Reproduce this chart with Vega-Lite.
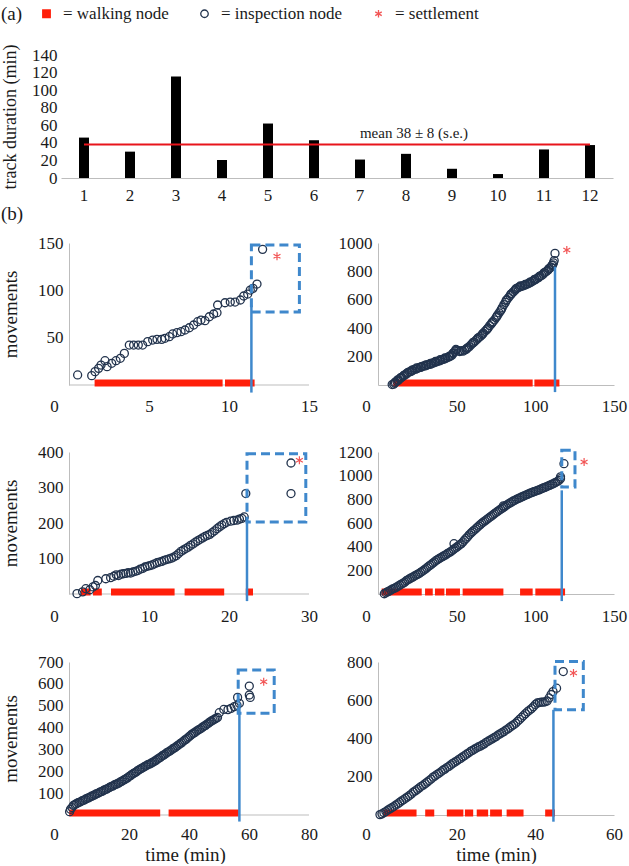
{
"$schema": "https://vega.github.io/schema/vega-lite/v6.json",
"padding": {"left": 0, "top": 5, "right": 2, "bottom": 0},
"background": "#ffffff",
"config": {
 "font": "Liberation Serif",
 "view": {"stroke": null},
 "axis": {"labelFont": "Liberation Serif", "titleFont": "Liberation Serif", "labelFontSize": 17, "titleFontSize": 19, "titleFontWeight": "normal", "labelColor": "#1a1a1a", "titleColor": "#1a1a1a", "ticks": false, "tickSize": 0, "tickCount": 20, "grid": false, "domainColor": "#bdbdbd", "domainWidth": 1, "labelOverlap": false, "labelFlush": false, "format": "d"},
 "title": {"font": "Liberation Serif", "fontSize": 19, "fontWeight": "normal", "color": "#1a1a1a", "anchor": "start"},
 "legend": {"labelFont": "Liberation Serif"}
},
"datasets": {
 "bars": [{"track":1,"dur":46},{"track":2,"dur":30},{"track":3,"dur":115.5},{"track":4,"dur":20.5},{"track":5,"dur":62},{"track":6,"dur":43},{"track":7,"dur":21},{"track":8,"dur":27.5},{"track":9,"dur":10.5},{"track":10,"dur":4.5},{"track":11,"dur":32.5},{"track":12,"dur":37.5}],
 "mean": [{"mean":38,"label":"mean 38 ± 8 (s.e.)"}],
 "axisline": [{"p":1,"x0":0,"x1":15},{"p":3,"x0":0,"x1":30},{"p":5,"x0":0,"x1":80}],
 "walk": [
  {"p":1,"t0":1.6,"t1":9.6},{"p":1,"t0":9.75,"t1":11.6},
  {"p":2,"t0":9.7,"t1":98.3},{"p":2,"t0":99.4,"t1":115.3},
  {"p":3,"t0":1.5,"t1":2.7},{"p":3,"t0":3.0,"t1":4.1},{"p":3,"t0":5.25,"t1":13.2},{"p":3,"t0":14.45,"t1":19.4},{"p":3,"t0":22.1,"t1":23.0},
  {"p":4,"t0":2.3,"t1":27.8},{"p":4,"t0":29.9,"t1":34.8},{"p":4,"t0":36.2,"t1":42.2},{"p":4,"t0":43.2,"t1":52.1},{"p":4,"t0":53.8,"t1":79.7},{"p":4,"t0":90.3,"t1":98.3},{"p":4,"t0":100,"t1":118.9},
  {"p":5,"t0":0.1,"t1":30.4},{"p":5,"t0":33.2,"t1":56.6},
  {"p":6,"t0":1.4,"t1":9.8},{"p":6,"t0":12,"t1":14.3},{"p":6,"t0":17.5,"t1":21.7},{"p":6,"t0":22.1,"t1":24.2},{"p":6,"t0":25.1,"t1":28},{"p":6,"t0":28.5,"t1":31.5},{"p":6,"t0":32.7,"t1":37},{"p":6,"t0":42.5,"t1":45}
 ],
 "vline": [
  {"p":1,"t":11.4,"m0":-8,"m1":84},
  {"p":2,"t":112.5,"m0":-50,"m1":833},
  {"p":3,"t":22.25,"m0":-20,"m1":208},
  {"p":4,"t":116.8,"m0":-60,"m1":876},
  {"p":5,"t":56.8,"m0":-30,"m1":511},
  {"p":6,"t":44.6,"m0":-35,"m1":550}
 ],
 "box": [
  {"p":1,"t0":11.4,"t1":14.4,"m0":77,"m1":148},
  {"p":3,"t0":22.25,"t1":29.6,"m0":203,"m1":395},
  {"p":4,"t0":116.8,"t1":125.2,"m0":904,"m1":1214},
  {"p":5,"t0":56.4,"t1":68.4,"m0":465,"m1":663},
  {"p":6,"t0":45,"t1":52.2,"m0":550,"m1":803}
 ],
 "star": [
  {"p":1,"t":13.0,"m":136},
  {"p":2,"t":120,"m":950},
  {"p":3,"t":28.8,"m":377},
  {"p":4,"t":131,"m":1116},
  {"p":5,"t":64.9,"m":610},
  {"p":6,"t":49.7,"m":742}
 ],
 "pts": [
  {"p":1,"t":0.54,"m":10.6},{"p":1,"t":1.42,"m":9.9},{"p":1,"t":1.63,"m":14.1},{"p":1,"t":1.85,"m":17.6},{"p":1,"t":2.0,"m":21.1},{"p":1,"t":2.25,"m":25.7},{"p":1,"t":2.38,"m":19.4},{"p":1,"t":2.67,"m":22.9},{"p":1,"t":2.94,"m":25.7},{"p":1,"t":3.21,"m":28.2},{"p":1,"t":3.46,"m":33.4},{"p":1,"t":3.77,"m":42.2},{"p":1,"t":4.04,"m":42.2},{"p":1,"t":4.33,"m":42.2},{"p":1,"t":4.6,"m":42.2},{"p":1,"t":4.92,"m":45.8},{"p":1,"t":5.23,"m":47.5},{"p":1,"t":5.5,"m":48.2},{"p":1,"t":5.79,"m":48.2},{"p":1,"t":6.0,"m":49.3},{"p":1,"t":6.27,"m":51},{"p":1,"t":6.48,"m":53.9},{"p":1,"t":6.75,"m":55.3},{"p":1,"t":7.0,"m":56.3},{"p":1,"t":7.25,"m":58.1},{"p":1,"t":7.52,"m":60.5},{"p":1,"t":7.79,"m":63.4},{"p":1,"t":8.04,"m":66.9},{"p":1,"t":8.25,"m":68.6},{"p":1,"t":8.5,"m":67.9},{"p":1,"t":8.77,"m":72.1},{"p":1,"t":9.04,"m":75},{"p":1,"t":9.25,"m":76.4},{"p":1,"t":9.29,"m":84.5},{"p":1,"t":9.75,"m":86.9},{"p":1,"t":10.08,"m":87.6},{"p":1,"t":10.38,"m":87.6},{"p":1,"t":10.71,"m":89.8},{"p":1,"t":10.92,"m":94},{"p":1,"t":11.17,"m":96.1},{"p":1,"t":11.33,"m":100.3},{"p":1,"t":11.5,"m":102.1},{"p":1,"t":11.75,"m":106.6},{"p":1,"t":12.1,"m":143.3},
  {"p":2,"t":9,"m":3},{"p":2,"t":10,"m":6},{"p":2,"t":10.5,"m":14},{"p":2,"t":11,"m":20},{"p":2,"t":12,"m":26},{"p":2,"t":12.5,"m":36},{"p":2,"t":13,"m":34},{"p":2,"t":14,"m":46},{"p":2,"t":14.5,"m":52},{"p":2,"t":15,"m":54},{"p":2,"t":16,"m":62},{"p":2,"t":16.5,"m":68},{"p":2,"t":17,"m":72},{"p":2,"t":18,"m":76},{"p":2,"t":18.5,"m":84},{"p":2,"t":19,"m":88},{"p":2,"t":20,"m":92},{"p":2,"t":21,"m":96},{"p":2,"t":21.5,"m":104},{"p":2,"t":22,"m":102},{"p":2,"t":23,"m":110},{"p":2,"t":24,"m":112},{"p":2,"t":24.5,"m":120},{"p":2,"t":25,"m":116},{"p":2,"t":26,"m":122},{"p":2,"t":27,"m":124},{"p":2,"t":27.5,"m":130},{"p":2,"t":28,"m":128},{"p":2,"t":29,"m":134},{"p":2,"t":30,"m":134},{"p":2,"t":30.5,"m":142},{"p":2,"t":31,"m":140},{"p":2,"t":32,"m":144},{"p":2,"t":33,"m":150},{"p":2,"t":33.5,"m":146},{"p":2,"t":34,"m":154},{"p":2,"t":35,"m":154},{"p":2,"t":36,"m":160},{"p":2,"t":36.5,"m":166},{"p":2,"t":37,"m":162},{"p":2,"t":38,"m":168},{"p":2,"t":39,"m":170},{"p":2,"t":39.5,"m":178},{"p":2,"t":40,"m":174},{"p":2,"t":41,"m":180},{"p":2,"t":42,"m":182},{"p":2,"t":42.5,"m":190},{"p":2,"t":43,"m":188},{"p":2,"t":44,"m":192},{"p":2,"t":45,"m":198},{"p":2,"t":45.5,"m":204},{"p":2,"t":46,"m":202},{"p":2,"t":47,"m":210},{"p":2,"t":47.5,"m":222},{"p":2,"t":48,"m":226},{"p":2,"t":49,"m":238},{"p":2,"t":49.5,"m":250},{"p":2,"t":50,"m":246},{"p":2,"t":51,"m":240},{"p":2,"t":52,"m":236},{"p":2,"t":53,"m":242},{"p":2,"t":54,"m":238},{"p":2,"t":55,"m":246},{"p":2,"t":56,"m":250},{"p":2,"t":56.5,"m":258},{"p":2,"t":57,"m":262},{"p":2,"t":58,"m":270},{"p":2,"t":59,"m":282},{"p":2,"t":60,"m":292},{"p":2,"t":60.5,"m":300},{"p":2,"t":61,"m":302},{"p":2,"t":62,"m":312},{"p":2,"t":63,"m":322},{"p":2,"t":63.5,"m":330},{"p":2,"t":64,"m":334},{"p":2,"t":65,"m":342},{"p":2,"t":66,"m":352},{"p":2,"t":66.5,"m":360},{"p":2,"t":67,"m":366},{"p":2,"t":68,"m":378},{"p":2,"t":69,"m":388},{"p":2,"t":69.5,"m":396},{"p":2,"t":70,"m":402},{"p":2,"t":71,"m":418},{"p":2,"t":72,"m":430},{"p":2,"t":72.5,"m":440},{"p":2,"t":73,"m":446},{"p":2,"t":74,"m":458},{"p":2,"t":75,"m":474},{"p":2,"t":75.5,"m":482},{"p":2,"t":76,"m":492},{"p":2,"t":77,"m":508},{"p":2,"t":78,"m":524},{"p":2,"t":78.5,"m":534},{"p":2,"t":79,"m":546},{"p":2,"t":80,"m":566},{"p":2,"t":81,"m":582},{"p":2,"t":81.5,"m":596},{"p":2,"t":82,"m":602},{"p":2,"t":83,"m":616},{"p":2,"t":84,"m":630},{"p":2,"t":84.5,"m":640},{"p":2,"t":85,"m":644},{"p":2,"t":86,"m":656},{"p":2,"t":87,"m":666},{"p":2,"t":87.5,"m":676},{"p":2,"t":88,"m":678},{"p":2,"t":89,"m":686},{"p":2,"t":90,"m":690},{"p":2,"t":90.5,"m":698},{"p":2,"t":91,"m":694},{"p":2,"t":92,"m":698},{"p":2,"t":93,"m":702},{"p":2,"t":93.5,"m":708},{"p":2,"t":94,"m":706},{"p":2,"t":95,"m":712},{"p":2,"t":96,"m":716},{"p":2,"t":96.5,"m":724},{"p":2,"t":97,"m":722},{"p":2,"t":98,"m":730},{"p":2,"t":99,"m":736},{"p":2,"t":99.5,"m":744},{"p":2,"t":100,"m":742},{"p":2,"t":101,"m":750},{"p":2,"t":102,"m":756},{"p":2,"t":102.5,"m":764},{"p":2,"t":103,"m":766},{"p":2,"t":104,"m":772},{"p":2,"t":105,"m":780},{"p":2,"t":105.5,"m":790},{"p":2,"t":106,"m":792},{"p":2,"t":107,"m":800},{"p":2,"t":108,"m":808},{"p":2,"t":108.5,"m":818},{"p":2,"t":109,"m":822},{"p":2,"t":110,"m":830},{"p":2,"t":110.5,"m":842},{"p":2,"t":111,"m":846},{"p":2,"t":111.5,"m":860},{"p":2,"t":112,"m":876},{"p":2,"t":112.5,"m":927},
  {"p":3,"t":1.0,"m":1},{"p":3,"t":1.7,"m":6},{"p":3,"t":2.1,"m":15},{"p":3,"t":2.6,"m":12},{"p":3,"t":3.0,"m":20},{"p":3,"t":3.3,"m":24},{"p":3,"t":3.6,"m":38},{"p":3,"t":4.6,"m":43},{"p":3,"t":5.2,"m":46},{"p":3,"t":5.6,"m":50},{"p":3,"t":5.9,"m":54},{"p":3,"t":6.2,"m":52},{"p":3,"t":6.5,"m":56},{"p":3,"t":6.8,"m":57},{"p":3,"t":7.1,"m":58},{"p":3,"t":7.4,"m":60},{"p":3,"t":7.7,"m":59},{"p":3,"t":8.0,"m":62},{"p":3,"t":8.3,"m":64},{"p":3,"t":8.6,"m":66},{"p":3,"t":8.9,"m":70},{"p":3,"t":9.2,"m":72},{"p":3,"t":9.5,"m":76},{"p":3,"t":9.8,"m":78},{"p":3,"t":10.1,"m":80},{"p":3,"t":10.4,"m":82},{"p":3,"t":10.7,"m":85},{"p":3,"t":11.0,"m":88},{"p":3,"t":11.3,"m":90},{"p":3,"t":11.6,"m":92},{"p":3,"t":11.9,"m":95},{"p":3,"t":12.2,"m":97},{"p":3,"t":12.5,"m":99},{"p":3,"t":12.8,"m":101},{"p":3,"t":13.1,"m":104},{"p":3,"t":13.4,"m":108},{"p":3,"t":13.7,"m":114},{"p":3,"t":14.0,"m":120},{"p":3,"t":14.3,"m":124},{"p":3,"t":14.6,"m":128},{"p":3,"t":14.9,"m":132},{"p":3,"t":15.2,"m":137},{"p":3,"t":15.5,"m":141},{"p":3,"t":15.8,"m":146},{"p":3,"t":16.1,"m":150},{"p":3,"t":16.4,"m":154},{"p":3,"t":16.7,"m":158},{"p":3,"t":17.0,"m":162},{"p":3,"t":17.3,"m":165},{"p":3,"t":17.6,"m":168},{"p":3,"t":17.9,"m":173},{"p":3,"t":18.2,"m":178},{"p":3,"t":18.5,"m":184},{"p":3,"t":18.8,"m":189},{"p":3,"t":19.1,"m":194},{"p":3,"t":19.4,"m":198},{"p":3,"t":19.7,"m":202},{"p":3,"t":20.2,"m":205},{"p":3,"t":20.6,"m":207},{"p":3,"t":21.0,"m":208},{"p":3,"t":21.3,"m":211},{"p":3,"t":21.6,"m":213},{"p":3,"t":21.9,"m":217},{"p":3,"t":22.1,"m":283},{"p":3,"t":27.75,"m":283},{"p":3,"t":27.75,"m":369},
  {"p":4,"t":4,"m":2},{"p":4,"t":5,"m":10},{"p":4,"t":6,"m":18},{"p":4,"t":7,"m":24},{"p":4,"t":8,"m":32},{"p":4,"t":9,"m":40},{"p":4,"t":10,"m":46},{"p":4,"t":11,"m":52},{"p":4,"t":12,"m":60},{"p":4,"t":13,"m":68},{"p":4,"t":14,"m":76},{"p":4,"t":15,"m":84},{"p":4,"t":16,"m":92},{"p":4,"t":17,"m":100},{"p":4,"t":18,"m":112},{"p":4,"t":19,"m":120},{"p":4,"t":20,"m":128},{"p":4,"t":21,"m":136},{"p":4,"t":22,"m":142},{"p":4,"t":23,"m":150},{"p":4,"t":24,"m":158},{"p":4,"t":25,"m":166},{"p":4,"t":26,"m":172},{"p":4,"t":27,"m":182},{"p":4,"t":28,"m":190},{"p":4,"t":29,"m":200},{"p":4,"t":30,"m":210},{"p":4,"t":31,"m":220},{"p":4,"t":32,"m":232},{"p":4,"t":33,"m":242},{"p":4,"t":34,"m":252},{"p":4,"t":35,"m":262},{"p":4,"t":36,"m":272},{"p":4,"t":37,"m":284},{"p":4,"t":38,"m":292},{"p":4,"t":39,"m":300},{"p":4,"t":40,"m":308},{"p":4,"t":41,"m":316},{"p":4,"t":42,"m":324},{"p":4,"t":43,"m":330},{"p":4,"t":44,"m":340},{"p":4,"t":45,"m":348},{"p":4,"t":46,"m":356},{"p":4,"t":47,"m":366},{"p":4,"t":48,"m":376},{"p":4,"t":48.3,"m":425},{"p":4,"t":49,"m":386},{"p":4,"t":50,"m":396},{"p":4,"t":51,"m":406},{"p":4,"t":52,"m":416},{"p":4,"t":53,"m":426},{"p":4,"t":54,"m":440},{"p":4,"t":55,"m":456},{"p":4,"t":56,"m":470},{"p":4,"t":57,"m":484},{"p":4,"t":58,"m":500},{"p":4,"t":59,"m":514},{"p":4,"t":60,"m":526},{"p":4,"t":61,"m":538},{"p":4,"t":62,"m":550},{"p":4,"t":63,"m":562},{"p":4,"t":64,"m":574},{"p":4,"t":65,"m":586},{"p":4,"t":66,"m":598},{"p":4,"t":67,"m":608},{"p":4,"t":68,"m":618},{"p":4,"t":69,"m":628},{"p":4,"t":70,"m":638},{"p":4,"t":71,"m":648},{"p":4,"t":72,"m":658},{"p":4,"t":73,"m":668},{"p":4,"t":74,"m":678},{"p":4,"t":75,"m":688},{"p":4,"t":76,"m":698},{"p":4,"t":77,"m":708},{"p":4,"t":78,"m":716},{"p":4,"t":79,"m":726},{"p":4,"t":79.7,"m":745},{"p":4,"t":80,"m":734},{"p":4,"t":81,"m":744},{"p":4,"t":82,"m":754},{"p":4,"t":83,"m":762},{"p":4,"t":84,"m":770},{"p":4,"t":85,"m":778},{"p":4,"t":86,"m":786},{"p":4,"t":87,"m":792},{"p":4,"t":88,"m":800},{"p":4,"t":89,"m":806},{"p":4,"t":90,"m":812},{"p":4,"t":91,"m":818},{"p":4,"t":92,"m":824},{"p":4,"t":93,"m":830},{"p":4,"t":94,"m":836},{"p":4,"t":95,"m":842},{"p":4,"t":96,"m":848},{"p":4,"t":97,"m":854},{"p":4,"t":98,"m":858},{"p":4,"t":99,"m":864},{"p":4,"t":100,"m":868},{"p":4,"t":101,"m":874},{"p":4,"t":102,"m":878},{"p":4,"t":103,"m":884},{"p":4,"t":104,"m":890},{"p":4,"t":105,"m":896},{"p":4,"t":106,"m":900},{"p":4,"t":107,"m":906},{"p":4,"t":108,"m":912},{"p":4,"t":109,"m":918},{"p":4,"t":110,"m":924},{"p":4,"t":111,"m":930},{"p":4,"t":112,"m":936},{"p":4,"t":113,"m":944},{"p":4,"t":114,"m":950},{"p":4,"t":115,"m":960},{"p":4,"t":116,"m":975},{"p":4,"t":116,"m":990},{"p":4,"t":118.2,"m":1101},
  {"p":5,"t":0.2,"m":15},{"p":5,"t":0.5,"m":26},{"p":5,"t":1,"m":34},{"p":5,"t":1.5,"m":44},{"p":5,"t":2,"m":48},{"p":5,"t":2.5,"m":52},{"p":5,"t":3,"m":56},{"p":5,"t":3.5,"m":58},{"p":5,"t":4,"m":62},{"p":5,"t":4.5,"m":66},{"p":5,"t":5,"m":68},{"p":5,"t":5.5,"m":72},{"p":5,"t":6,"m":76},{"p":5,"t":6.5,"m":78},{"p":5,"t":7,"m":82},{"p":5,"t":7.5,"m":86},{"p":5,"t":8,"m":88},{"p":5,"t":8.5,"m":92},{"p":5,"t":9,"m":96},{"p":5,"t":9.5,"m":98},{"p":5,"t":10,"m":102},{"p":5,"t":10.5,"m":106},{"p":5,"t":11,"m":108},{"p":5,"t":11.5,"m":112},{"p":5,"t":12,"m":116},{"p":5,"t":12.5,"m":118},{"p":5,"t":13,"m":122},{"p":5,"t":13.5,"m":126},{"p":5,"t":14,"m":130},{"p":5,"t":14.5,"m":132},{"p":5,"t":15,"m":136},{"p":5,"t":15.5,"m":140},{"p":5,"t":16,"m":142},{"p":5,"t":16.5,"m":146},{"p":5,"t":17,"m":150},{"p":5,"t":17.5,"m":154},{"p":5,"t":18,"m":158},{"p":5,"t":18.5,"m":162},{"p":5,"t":19,"m":166},{"p":5,"t":19.5,"m":170},{"p":5,"t":20,"m":176},{"p":5,"t":20.5,"m":180},{"p":5,"t":21,"m":186},{"p":5,"t":21.5,"m":190},{"p":5,"t":22,"m":194},{"p":5,"t":22.5,"m":198},{"p":5,"t":23,"m":204},{"p":5,"t":23.5,"m":208},{"p":5,"t":24,"m":212},{"p":5,"t":24.5,"m":216},{"p":5,"t":25,"m":220},{"p":5,"t":25.5,"m":224},{"p":5,"t":26,"m":228},{"p":5,"t":26.5,"m":232},{"p":5,"t":27,"m":234},{"p":5,"t":27.5,"m":238},{"p":5,"t":28,"m":242},{"p":5,"t":28.5,"m":246},{"p":5,"t":29,"m":250},{"p":5,"t":29.5,"m":256},{"p":5,"t":30,"m":260},{"p":5,"t":30.5,"m":264},{"p":5,"t":31,"m":270},{"p":5,"t":31.5,"m":274},{"p":5,"t":32,"m":278},{"p":5,"t":32.5,"m":284},{"p":5,"t":33,"m":288},{"p":5,"t":33.5,"m":292},{"p":5,"t":34,"m":296},{"p":5,"t":34.5,"m":302},{"p":5,"t":35,"m":306},{"p":5,"t":35.5,"m":310},{"p":5,"t":36,"m":316},{"p":5,"t":36.5,"m":320},{"p":5,"t":37,"m":326},{"p":5,"t":37.5,"m":330},{"p":5,"t":38,"m":336},{"p":5,"t":38.5,"m":342},{"p":5,"t":39,"m":346},{"p":5,"t":39.5,"m":352},{"p":5,"t":40,"m":358},{"p":5,"t":40.5,"m":364},{"p":5,"t":41,"m":370},{"p":5,"t":41.5,"m":374},{"p":5,"t":42,"m":378},{"p":5,"t":42.5,"m":384},{"p":5,"t":43,"m":388},{"p":5,"t":43.5,"m":392},{"p":5,"t":44,"m":396},{"p":5,"t":44.5,"m":402},{"p":5,"t":45,"m":406},{"p":5,"t":45.5,"m":410},{"p":5,"t":46,"m":416},{"p":5,"t":46.5,"m":420},{"p":5,"t":47,"m":426},{"p":5,"t":47.5,"m":430},{"p":5,"t":48,"m":434},{"p":5,"t":48.5,"m":438},{"p":5,"t":49,"m":442},{"p":5,"t":49.5,"m":446},{"p":5,"t":50.1,"m":468},{"p":5,"t":51.6,"m":483},{"p":5,"t":53,"m":482},{"p":5,"t":54,"m":488},{"p":5,"t":55.1,"m":496},{"p":5,"t":56,"m":502},{"p":5,"t":56.8,"m":511},{"p":5,"t":56.2,"m":538},{"p":5,"t":60.1,"m":590},{"p":5,"t":60.1,"m":549},{"p":5,"t":60.4,"m":538},
  {"p":6,"t":0.5,"m":2},{"p":6,"t":1,"m":6},{"p":6,"t":1.5,"m":12},{"p":6,"t":2,"m":18},{"p":6,"t":2.5,"m":26},{"p":6,"t":3,"m":32},{"p":6,"t":3.5,"m":38},{"p":6,"t":4,"m":44},{"p":6,"t":4.5,"m":52},{"p":6,"t":5,"m":58},{"p":6,"t":5.5,"m":66},{"p":6,"t":6,"m":74},{"p":6,"t":6.5,"m":80},{"p":6,"t":7,"m":88},{"p":6,"t":7.5,"m":94},{"p":6,"t":8,"m":102},{"p":6,"t":8.5,"m":110},{"p":6,"t":9,"m":120},{"p":6,"t":9.5,"m":126},{"p":6,"t":10,"m":134},{"p":6,"t":10.5,"m":142},{"p":6,"t":11,"m":150},{"p":6,"t":11.5,"m":156},{"p":6,"t":12,"m":164},{"p":6,"t":12.5,"m":172},{"p":6,"t":13,"m":180},{"p":6,"t":13.5,"m":188},{"p":6,"t":14,"m":198},{"p":6,"t":14.5,"m":204},{"p":6,"t":15,"m":212},{"p":6,"t":15.5,"m":218},{"p":6,"t":16,"m":226},{"p":6,"t":16.5,"m":234},{"p":6,"t":17,"m":240},{"p":6,"t":17.5,"m":248},{"p":6,"t":18,"m":254},{"p":6,"t":18.5,"m":262},{"p":6,"t":19,"m":270},{"p":6,"t":19.5,"m":276},{"p":6,"t":20,"m":282},{"p":6,"t":20.5,"m":290},{"p":6,"t":21,"m":296},{"p":6,"t":21.5,"m":304},{"p":6,"t":22,"m":310},{"p":6,"t":22.5,"m":318},{"p":6,"t":23,"m":324},{"p":6,"t":23.5,"m":332},{"p":6,"t":24,"m":338},{"p":6,"t":24.5,"m":344},{"p":6,"t":25,"m":350},{"p":6,"t":25.5,"m":356},{"p":6,"t":26,"m":360},{"p":6,"t":26.5,"m":366},{"p":6,"t":27,"m":372},{"p":6,"t":27.5,"m":380},{"p":6,"t":28,"m":386},{"p":6,"t":28.5,"m":392},{"p":6,"t":29,"m":398},{"p":6,"t":29.5,"m":404},{"p":6,"t":30,"m":410},{"p":6,"t":30.5,"m":418},{"p":6,"t":31,"m":424},{"p":6,"t":31.5,"m":430},{"p":6,"t":32,"m":436},{"p":6,"t":32.5,"m":444},{"p":6,"t":33,"m":450},{"p":6,"t":33.5,"m":458},{"p":6,"t":34,"m":466},{"p":6,"t":34.5,"m":472},{"p":6,"t":35,"m":480},{"p":6,"t":35.5,"m":490},{"p":6,"t":36,"m":500},{"p":6,"t":36.5,"m":510},{"p":6,"t":37,"m":520},{"p":6,"t":37.5,"m":530},{"p":6,"t":38,"m":540},{"p":6,"t":38.5,"m":548},{"p":6,"t":39,"m":556},{"p":6,"t":39.5,"m":566},{"p":6,"t":40,"m":578},{"p":6,"t":40.5,"m":586},{"p":6,"t":41,"m":588},{"p":6,"t":41.5,"m":590},{"p":6,"t":42,"m":590},{"p":6,"t":42.5,"m":592},{"p":6,"t":43,"m":596},{"p":6,"t":43.5,"m":612},{"p":6,"t":44,"m":630},{"p":6,"t":44.5,"m":645},{"p":6,"t":45.4,"m":663},{"p":6,"t":47.1,"m":750}
 ]
},
"columns": 1,
"align": "none",
"spacing": 2,
"concat": [
 {
  "title": {"text": "(a)", "offset": 20},
  "width": 552, "height": 123,
  "layer": [
   {"data": {"name": "bars"}, "mark": {"type": "bar", "width": 10, "color": "#000000"},
    "encoding": {
     "x": {"field": "track", "type": "ordinal", "scale": {"paddingInner": 0, "paddingOuter": 0}, "axis": {"title": null, "labelAngle": 0, "labelPadding": 9}},
     "y": {"field": "dur", "type": "quantitative", "scale": {"domain": [0, 140], "nice": false}, "axis": {"title": "track duration (min)", "values": [0,20,40,60,80,100,120,140], "tickCount": 20, "labelOverlap": false, "labelFontSize": 17, "domain": false, "labelPadding": 4, "minExtent": 32, "maxExtent": 32, "titlePadding": 10, "titleFontSize": 18}}}},
   {"data": {"name": "mean"}, "mark": {"type": "rule", "color": "#e8141b", "strokeWidth": 2},
    "encoding": {"x": {"datum": 1, "type": "ordinal"}, "x2": {"datum": 12}, "y": {"field": "mean", "type": "quantitative"}}},
   {"data": {"name": "mean"}, "mark": {"type": "text", "fontSize": 15, "font": "Liberation Serif", "baseline": "bottom", "dy": -4, "dx": 8, "color": "#1a1a1a"},
    "encoding": {"x": {"datum": 8, "type": "ordinal"}, "y": {"field": "mean", "type": "quantitative"}, "text": {"field": "label"}}}
  ]
 },
 {
  "title": {"text": "(b)", "offset": 10},
  "columns": 2,
  "spacing": {"row": 29, "column": 20},
  "concat": [
   {"width": 248, "height": 142, "layer": [
    {"data": {"name": "axisline"}, "transform": [{"filter": "datum.p == 1"}], "mark": {"type": "rule", "color": "#bdbdbd", "strokeWidth": 1},
     "encoding": {"x": {"field": "x0", "type": "quantitative", "scale": {"domain": [-0.5, 15], "nice": false, "zero": false}, "axis": {"title": null, "domain": false, "values": [0,5,10,15], "tickCount": 20, "labelPadding": 13, "labelOffset": {"condition": {"test": "datum.value === 0", "value": -15}, "value": 0}}},
      "x2": {"field": "x1"},
      "y": {"datum": 0, "type": "quantitative", "scale": {"domain": [0, 150], "nice": false}, "axis": {"title": "movements", "values": [50,100,150], "tickCount": 20, "offset": -8, "labelPadding": 6, "minExtent": 31, "maxExtent": 31, "titlePadding": 18}}}},
    {"data": {"name": "walk"}, "transform": [{"filter": "datum.p == 1"}], "mark": {"type": "rule", "color": "#ff1f0a", "strokeWidth": 7, "yOffset": -2},
     "encoding": {"x": {"field": "t0", "type": "quantitative"}, "x2": {"field": "t1"}, "y": {"datum": 0, "type": "quantitative"}}},
    {"data": {"name": "pts"}, "transform": [{"filter": "datum.p == 1"}], "mark": {"type": "point", "strokeWidth": 1.3, "size": 64, "opacity": 1},
     "encoding": {"x": {"field": "t", "type": "quantitative"}, "y": {"field": "m", "type": "quantitative"},
      "shape": {"datum": "inspection node", "scale": {"domain": ["walking node", "inspection node", "settlement"], "range": ["square", "circle", "M0,-1L0,1M-0.87,-0.5L0.87,0.5M-0.87,0.5L0.87,-0.5"]},
       "legend": {"orient": "none", "legendX": -23, "legendY": -50, "direction": "horizontal", "title": null, "padding": 0, "labelExpr": "'= ' + datum.label", "labelFontSize": 17, "labelColor": "#1a1a1a", "columnPadding": 27, "labelOffset": 8, "symbolSize": 56, "symbolStrokeWidth": 1.3}},
      "stroke": {"datum": "inspection node", "scale": {"domain": ["walking node", "inspection node", "settlement"], "range": ["#ff1f0a", "#22334d", "#f25555"]},
       "legend": {"orient": "none", "legendX": -23, "legendY": -50, "direction": "horizontal", "title": null, "padding": 0, "labelExpr": "'= ' + datum.label", "labelFontSize": 17, "labelColor": "#1a1a1a", "columnPadding": 27, "labelOffset": 8, "symbolSize": 56, "symbolStrokeWidth": 1.3}},
      "fill": {"datum": "inspection node", "scale": {"domain": ["walking node", "inspection node", "settlement"], "range": ["#ff1f0a", "transparent", "transparent"]},
       "legend": {"orient": "none", "legendX": -23, "legendY": -50, "direction": "horizontal", "title": null, "padding": 0, "labelExpr": "'= ' + datum.label", "labelFontSize": 17, "labelColor": "#1a1a1a", "columnPadding": 27, "labelOffset": 8, "symbolSize": 56, "symbolStrokeWidth": 1.3}}}},
    {"data": {"name": "star"}, "transform": [{"filter": "datum.p == 1"}], "mark": {"type": "point", "strokeWidth": 1.2, "size": 64, "opacity": 1},
     "encoding": {"x": {"field": "t", "type": "quantitative"}, "y": {"field": "m", "type": "quantitative"}, "shape": {"datum": "settlement", "legend": null}, "stroke": {"datum": "settlement", "legend": null}, "fill": {"datum": "settlement", "legend": null}}},
    {"data": {"name": "vline"}, "transform": [{"filter": "datum.p == 1"}], "mark": {"type": "rule", "color": "#3f88cc", "strokeWidth": 2.5},
     "encoding": {"x": {"field": "t", "type": "quantitative"}, "y": {"field": "m0", "type": "quantitative"}, "y2": {"field": "m1"}}},
    {"data": {"name": "box"}, "transform": [{"filter": "datum.p == 1"}], "mark": {"type": "rect", "filled": false, "stroke": "#3f88cc", "strokeWidth": 3, "strokeDash": [9, 5]},
     "encoding": {"x": {"field": "t0", "type": "quantitative"}, "x2": {"field": "t1"}, "y": {"field": "m0", "type": "quantitative"}, "y2": {"field": "m1"}}}
   ]},
   {"width": 236, "height": 142, "layer": [
    {"data": {"name": "walk"}, "transform": [{"filter": "datum.p == 2"}], "mark": {"type": "rule", "color": "#ff1f0a", "strokeWidth": 7, "yOffset": -2},
     "encoding": {"x": {"field": "t0", "type": "quantitative", "scale": {"domain": [0, 150], "nice": false}, "axis": {"title": null, "values": [0,50,100,150], "tickCount": 20, "labelPadding": 13, "labelOffset": {"condition": {"test": "datum.value === 0", "value": -12}, "value": 0}}},
      "x2": {"field": "t1"},
      "y": {"datum": 0, "type": "quantitative", "scale": {"domain": [0, 1000], "nice": false}, "axis": {"title": null, "values": [200,400,600,800,1000], "tickCount": 20, "labelPadding": 6}}}},
    {"data": {"name": "pts"}, "transform": [{"filter": "datum.p == 2"}], "mark": {"type": "point", "strokeWidth": 1.3, "size": 64, "opacity": 1},
     "encoding": {"x": {"field": "t", "type": "quantitative"}, "y": {"field": "m", "type": "quantitative"}, "shape": {"datum": "inspection node", "legend": null}, "stroke": {"datum": "inspection node", "legend": null}, "fill": {"datum": "inspection node", "legend": null}}},
    {"data": {"name": "star"}, "transform": [{"filter": "datum.p == 2"}], "mark": {"type": "point", "strokeWidth": 1.2, "size": 64, "opacity": 1},
     "encoding": {"x": {"field": "t", "type": "quantitative"}, "y": {"field": "m", "type": "quantitative"}, "shape": {"datum": "settlement", "legend": null}, "stroke": {"datum": "settlement", "legend": null}, "fill": {"datum": "settlement", "legend": null}}},
    {"data": {"name": "vline"}, "transform": [{"filter": "datum.p == 2"}], "mark": {"type": "rule", "color": "#3f88cc", "strokeWidth": 2.5},
     "encoding": {"x": {"field": "t", "type": "quantitative"}, "y": {"field": "m0", "type": "quantitative"}, "y2": {"field": "m1"}}}
   ]},
   {"width": 248, "height": 142, "layer": [
    {"data": {"name": "axisline"}, "transform": [{"filter": "datum.p == 3"}], "mark": {"type": "rule", "color": "#bdbdbd", "strokeWidth": 1},
     "encoding": {"x": {"field": "x0", "type": "quantitative", "scale": {"domain": [-1, 30], "nice": false, "zero": false}, "axis": {"title": null, "domain": false, "values": [0,10,20,30], "tickCount": 20, "labelPadding": 14, "labelOffset": {"condition": {"test": "datum.value === 0", "value": -15}, "value": 0}}},
      "x2": {"field": "x1"},
      "y": {"datum": 0, "type": "quantitative", "scale": {"domain": [0, 400], "nice": false}, "axis": {"title": "movements", "values": [100,200,300,400], "tickCount": 20, "offset": -8, "labelPadding": 6, "minExtent": 31, "maxExtent": 31, "titlePadding": 18}}}},
    {"data": {"name": "walk"}, "transform": [{"filter": "datum.p == 3"}], "mark": {"type": "rule", "color": "#ff1f0a", "strokeWidth": 7, "yOffset": -2},
     "encoding": {"x": {"field": "t0", "type": "quantitative"}, "x2": {"field": "t1"}, "y": {"datum": 0, "type": "quantitative"}}},
    {"data": {"name": "pts"}, "transform": [{"filter": "datum.p == 3"}], "mark": {"type": "point", "strokeWidth": 1.3, "size": 64, "opacity": 1},
     "encoding": {"x": {"field": "t", "type": "quantitative"}, "y": {"field": "m", "type": "quantitative"}, "shape": {"datum": "inspection node", "legend": null}, "stroke": {"datum": "inspection node", "legend": null}, "fill": {"datum": "inspection node", "legend": null}}},
    {"data": {"name": "star"}, "transform": [{"filter": "datum.p == 3"}], "mark": {"type": "point", "strokeWidth": 1.2, "size": 64, "opacity": 1},
     "encoding": {"x": {"field": "t", "type": "quantitative"}, "y": {"field": "m", "type": "quantitative"}, "shape": {"datum": "settlement", "legend": null}, "stroke": {"datum": "settlement", "legend": null}, "fill": {"datum": "settlement", "legend": null}}},
    {"data": {"name": "vline"}, "transform": [{"filter": "datum.p == 3"}], "mark": {"type": "rule", "color": "#3f88cc", "strokeWidth": 2.5},
     "encoding": {"x": {"field": "t", "type": "quantitative"}, "y": {"field": "m0", "type": "quantitative"}, "y2": {"field": "m1"}}},
    {"data": {"name": "box"}, "transform": [{"filter": "datum.p == 3"}], "mark": {"type": "rect", "filled": false, "stroke": "#3f88cc", "strokeWidth": 3, "strokeDash": [9, 5]},
     "encoding": {"x": {"field": "t0", "type": "quantitative"}, "x2": {"field": "t1"}, "y": {"field": "m0", "type": "quantitative"}, "y2": {"field": "m1"}}}
   ]},
   {"width": 236, "height": 142, "layer": [
    {"data": {"name": "walk"}, "transform": [{"filter": "datum.p == 4"}], "mark": {"type": "rule", "color": "#ff1f0a", "strokeWidth": 7, "yOffset": -2},
     "encoding": {"x": {"field": "t0", "type": "quantitative", "scale": {"domain": [0, 150], "nice": false}, "axis": {"title": null, "values": [0,50,100,150], "tickCount": 20, "labelPadding": 14, "labelOffset": {"condition": {"test": "datum.value === 0", "value": -12}, "value": 0}}},
      "x2": {"field": "t1"},
      "y": {"datum": 0, "type": "quantitative", "scale": {"domain": [0, 1200], "nice": false}, "axis": {"title": null, "values": [200,400,600,800,1000,1200], "tickCount": 20, "labelPadding": 6}}}},
    {"data": {"name": "pts"}, "transform": [{"filter": "datum.p == 4"}], "mark": {"type": "point", "strokeWidth": 1.3, "size": 64, "opacity": 1},
     "encoding": {"x": {"field": "t", "type": "quantitative"}, "y": {"field": "m", "type": "quantitative"}, "shape": {"datum": "inspection node", "legend": null}, "stroke": {"datum": "inspection node", "legend": null}, "fill": {"datum": "inspection node", "legend": null}}},
    {"data": {"name": "star"}, "transform": [{"filter": "datum.p == 4"}], "mark": {"type": "point", "strokeWidth": 1.2, "size": 64, "opacity": 1},
     "encoding": {"x": {"field": "t", "type": "quantitative"}, "y": {"field": "m", "type": "quantitative"}, "shape": {"datum": "settlement", "legend": null}, "stroke": {"datum": "settlement", "legend": null}, "fill": {"datum": "settlement", "legend": null}}},
    {"data": {"name": "vline"}, "transform": [{"filter": "datum.p == 4"}], "mark": {"type": "rule", "color": "#3f88cc", "strokeWidth": 2.5},
     "encoding": {"x": {"field": "t", "type": "quantitative"}, "y": {"field": "m0", "type": "quantitative"}, "y2": {"field": "m1"}}},
    {"data": {"name": "box"}, "transform": [{"filter": "datum.p == 4"}], "mark": {"type": "rect", "filled": false, "stroke": "#3f88cc", "strokeWidth": 3, "strokeDash": [9, 5]},
     "encoding": {"x": {"field": "t0", "type": "quantitative"}, "x2": {"field": "t1"}, "y": {"field": "m0", "type": "quantitative"}, "y2": {"field": "m1"}}}
   ]},
   {"width": 248, "height": 153, "layer": [
    {"data": {"name": "axisline"}, "transform": [{"filter": "datum.p == 5"}], "mark": {"type": "rule", "color": "#bdbdbd", "strokeWidth": 1},
     "encoding": {"x": {"field": "x0", "type": "quantitative", "scale": {"domain": [-2.667, 80], "nice": false, "zero": false}, "axis": {"title": "time (min)", "domain": false, "values": [0,20,40,60,80], "tickCount": 20, "labelPadding": 11, "titlePadding": 3, "labelOffset": {"condition": {"test": "datum.value === 0", "value": -15}, "value": 0}}},
      "x2": {"field": "x1"},
      "y": {"datum": 0, "type": "quantitative", "scale": {"domain": [0, 700], "nice": false}, "axis": {"title": "movements", "values": [100,200,300,400,500,600,700], "tickCount": 20, "offset": -8, "labelPadding": 6, "minExtent": 31, "maxExtent": 31, "titlePadding": 18}}}},
    {"data": {"name": "walk"}, "transform": [{"filter": "datum.p == 5"}], "mark": {"type": "rule", "color": "#ff1f0a", "strokeWidth": 7, "yOffset": -2},
     "encoding": {"x": {"field": "t0", "type": "quantitative"}, "x2": {"field": "t1"}, "y": {"datum": 0, "type": "quantitative"}}},
    {"data": {"name": "pts"}, "transform": [{"filter": "datum.p == 5"}], "mark": {"type": "point", "strokeWidth": 1.3, "size": 64, "opacity": 1},
     "encoding": {"x": {"field": "t", "type": "quantitative"}, "y": {"field": "m", "type": "quantitative"}, "shape": {"datum": "inspection node", "legend": null}, "stroke": {"datum": "inspection node", "legend": null}, "fill": {"datum": "inspection node", "legend": null}}},
    {"data": {"name": "star"}, "transform": [{"filter": "datum.p == 5"}], "mark": {"type": "point", "strokeWidth": 1.2, "size": 64, "opacity": 1},
     "encoding": {"x": {"field": "t", "type": "quantitative"}, "y": {"field": "m", "type": "quantitative"}, "shape": {"datum": "settlement", "legend": null}, "stroke": {"datum": "settlement", "legend": null}, "fill": {"datum": "settlement", "legend": null}}},
    {"data": {"name": "vline"}, "transform": [{"filter": "datum.p == 5"}], "mark": {"type": "rule", "color": "#3f88cc", "strokeWidth": 2.5},
     "encoding": {"x": {"field": "t", "type": "quantitative"}, "y": {"field": "m0", "type": "quantitative"}, "y2": {"field": "m1"}}},
    {"data": {"name": "box"}, "transform": [{"filter": "datum.p == 5"}], "mark": {"type": "rect", "filled": false, "stroke": "#3f88cc", "strokeWidth": 3, "strokeDash": [9, 5]},
     "encoding": {"x": {"field": "t0", "type": "quantitative"}, "x2": {"field": "t1"}, "y": {"field": "m0", "type": "quantitative"}, "y2": {"field": "m1"}}}
   ]},
   {"width": 236, "height": 153, "layer": [
    {"data": {"name": "walk"}, "transform": [{"filter": "datum.p == 6"}], "mark": {"type": "rule", "color": "#ff1f0a", "strokeWidth": 7, "yOffset": -2},
     "encoding": {"x": {"field": "t0", "type": "quantitative", "scale": {"domain": [0, 60], "nice": false}, "axis": {"title": "time (min)", "values": [0,20,40,60], "tickCount": 20, "labelPadding": 11, "titlePadding": 3, "labelOffset": {"condition": {"test": "datum.value === 0", "value": -12}, "value": 0}}},
      "x2": {"field": "t1"},
      "y": {"datum": 0, "type": "quantitative", "scale": {"domain": [0, 800], "nice": false}, "axis": {"title": null, "values": [200,400,600,800], "tickCount": 20, "labelPadding": 6}}}},
    {"data": {"name": "pts"}, "transform": [{"filter": "datum.p == 6"}], "mark": {"type": "point", "strokeWidth": 1.3, "size": 64, "opacity": 1},
     "encoding": {"x": {"field": "t", "type": "quantitative"}, "y": {"field": "m", "type": "quantitative"}, "shape": {"datum": "inspection node", "legend": null}, "stroke": {"datum": "inspection node", "legend": null}, "fill": {"datum": "inspection node", "legend": null}}},
    {"data": {"name": "star"}, "transform": [{"filter": "datum.p == 6"}], "mark": {"type": "point", "strokeWidth": 1.2, "size": 64, "opacity": 1},
     "encoding": {"x": {"field": "t", "type": "quantitative"}, "y": {"field": "m", "type": "quantitative"}, "shape": {"datum": "settlement", "legend": null}, "stroke": {"datum": "settlement", "legend": null}, "fill": {"datum": "settlement", "legend": null}}},
    {"data": {"name": "vline"}, "transform": [{"filter": "datum.p == 6"}], "mark": {"type": "rule", "color": "#3f88cc", "strokeWidth": 2.5},
     "encoding": {"x": {"field": "t", "type": "quantitative"}, "y": {"field": "m0", "type": "quantitative"}, "y2": {"field": "m1"}}},
    {"data": {"name": "box"}, "transform": [{"filter": "datum.p == 6"}], "mark": {"type": "rect", "filled": false, "stroke": "#3f88cc", "strokeWidth": 3, "strokeDash": [9, 5]},
     "encoding": {"x": {"field": "t0", "type": "quantitative"}, "x2": {"field": "t1"}, "y": {"field": "m0", "type": "quantitative"}, "y2": {"field": "m1"}}}
   ]}
  ]
 }
]
}
